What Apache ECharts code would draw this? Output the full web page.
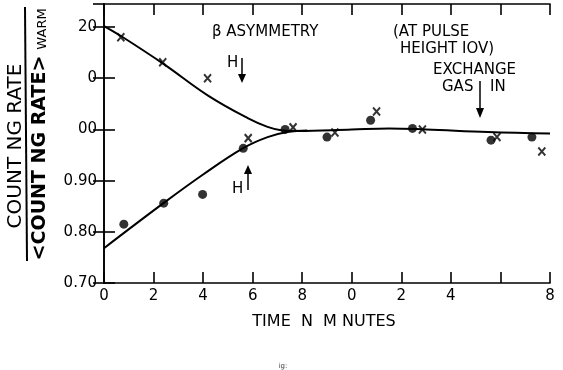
<!DOCTYPE html>
<html><head><meta charset="utf-8">
<script src="https://cdn.jsdelivr.net/npm/echarts@6/dist/echarts.min.js"></script>
<style>html,body{margin:0;padding:0;background:#fff}#c{width:563px;height:370px}</style>
</head><body><div id="c"></div>
<script>
// ---- data ----
const xTickLabels = ['0','2','4','6','8','0','2','4','','8'];   // at 0,2,...,18 min
const yTickLabels = {70:'0.70',80:'0.80',90:'0.90',100:'00',110:'0',120:'20'};
// crosses: field "down"
const crossPts = [[0.68,1.180],[2.37,1.131],[4.18,1.100],[5.82,0.983],[7.63,1.004],
                  [9.32,0.994],[11.0,1.035],[12.85,1.000],[15.86,0.985],[17.67,0.957]];
// dots: field "up"
const dotPts = [[0.80,0.815],[2.41,0.856],[3.98,0.873],[5.62,0.963],[7.31,1.000],
                [9.0,0.985],[10.76,1.018],[12.45,1.002],[15.62,0.979],[17.27,0.985]];
// fitted curves
const upperCurve = [[0,1.202],[0.7,1.182],[2.4,1.128],[4.2,1.066],[5.8,1.022],[6.6,1.005],[7.2,0.998],[7.8,0.997],
                    [10,1.000],[11.5,1.002],[13,1.000],[15.5,0.995],[18,0.992]];
const lowerCurve = [[0,0.768],[2.4,0.856],[4.0,0.912],[5.6,0.963],[6.6,0.985],[7.4,0.995],[8.2,0.998]];

const F = '"DejaVu Sans", sans-serif';
const K = '#000';
const chart = echarts.init(document.getElementById('c'), null, {renderer:'canvas'});
const axLine = {show:true, lineStyle:{color:K, width:1.6}};
const tick = {show:true, inside:true, length:11, lineStyle:{color:K, width:1.6}};
chart.setOption({
  backgroundColor:'#fff',
  animation:false,
  grid:{left:104, right:13, top:4, bottom:87},
  xAxis:[{
    type:'value', min:0, max:18, interval:2, position:'bottom',
    axisLine:axLine, axisTick:tick, splitLine:{show:false},
    axisLabel:{margin:6, fontFamily:F, fontSize:15, color:K,
      formatter:v=>xTickLabels[Math.round(v/2)]}
  },{
    type:'value', min:0, max:18, interval:2, position:'top',
    axisLine:axLine, axisTick:tick, splitLine:{show:false}, axisLabel:{show:false}
  }],
  yAxis:[{
    type:'value', min:0.7, max:1.245, interval:0.1, position:'left',
    axisLine:axLine, axisTick:tick, splitLine:{show:false},
    axisLabel:{margin:7, fontFamily:F, fontSize:15, color:K, showMaxLabel:false,
      formatter:v=>yTickLabels[Math.round(v*100)]||''}
  },{
    type:'value', min:0.7, max:1.245, interval:0.1, position:'right',
    axisLine:axLine, axisTick:tick, splitLine:{show:false}, axisLabel:{show:false}
  }],
  series:[
    {type:'line', data:upperCurve, smooth:0.4, symbol:'none', lineStyle:{color:K, width:2}},
    {type:'line', data:lowerCurve, smooth:0.4, symbol:'none', lineStyle:{color:K, width:2}},
    {type:'scatter', data:dotPts, symbol:'circle', symbolSize:9, itemStyle:{color:K}},
    {type:'scatter', data:crossPts, symbol:'path://M0,0L10,12M10,0L0,12', symbolSize:[7,8],
      itemStyle:{color:K, borderColor:K, borderWidth:2}}
  ],
  graphic:[
    // y title
    {type:'text', x:16, y:146, rotation:Math.PI/2, style:{text:'COUNT NG RATE', font:'500 20px '+F, fill:K, align:'center', verticalAlign:'middle'}},
    {type:'line', shape:{x1:25, y1:7, x2:27, y2:261}, style:{stroke:K, lineWidth:2}},
    {type:'text', x:40, y:158, rotation:Math.PI/2, style:{text:'<COUNT NG RATE>', font:'bold 19px '+F, fill:K, align:'center', verticalAlign:'middle'}},
    {type:'text', x:43, y:29, rotation:Math.PI/2, style:{text:'WARM', font:'13px '+F, fill:K, align:'center', verticalAlign:'middle'}},
    // x title
    {type:'text', x:324, y:322, style:{text:'TIME  N  M NUTES', font:'16px '+F, fill:K, align:'center', verticalAlign:'middle'}},
    // annotations
    {type:'text', x:212, y:32, style:{text:'β ASYMMETRY', font:'15px '+F, fill:K, align:'left', verticalAlign:'middle'}},
    {type:'text', x:393, y:32, style:{text:'(AT PULSE', font:'15px '+F, fill:K, align:'left', verticalAlign:'middle'}},
    {type:'text', x:400, y:49, style:{text:'HEIGHT IOV)', font:'15px '+F, fill:K, align:'left', verticalAlign:'middle'}},
    {type:'text', x:433, y:70, style:{text:'EXCHANGE', font:'15px '+F, fill:K, align:'left', verticalAlign:'middle'}},
    {type:'text', x:442, y:87, style:{text:'GAS', font:'15px '+F, fill:K, align:'left', verticalAlign:'middle'}},
    {type:'text', x:490, y:87, style:{text:'IN', font:'15px '+F, fill:K, align:'left', verticalAlign:'middle'}},
    {type:'line', shape:{x1:480, y1:81, x2:480, y2:112}, style:{stroke:K, lineWidth:1.5}},
    {type:'polygon', shape:{points:[[476,108],[484,108],[480,118]]}, style:{fill:K}},
    {type:'text', x:227, y:63, style:{text:'H', font:'15px '+F, fill:K, align:'left', verticalAlign:'middle'}},
    {type:'line', shape:{x1:242, y1:58, x2:242, y2:77}, style:{stroke:K, lineWidth:1.5}},
    {type:'polygon', shape:{points:[[238,74],[246,74],[242,83]]}, style:{fill:K}},
    {type:'text', x:232, y:189, style:{text:'H', font:'15px '+F, fill:K, align:'left', verticalAlign:'middle'}},
    {type:'line', shape:{x1:248, y1:190, x2:248, y2:171}, style:{stroke:K, lineWidth:1.5}},
    {type:'polygon', shape:{points:[[244,174],[252,174],[248,165]]}, style:{fill:K}},
    {type:'text', x:283, y:366, style:{text:'ig:', font:'7px '+F, fill:'#444', align:'center', verticalAlign:'middle'}}
  ]
});
</script></body></html>
